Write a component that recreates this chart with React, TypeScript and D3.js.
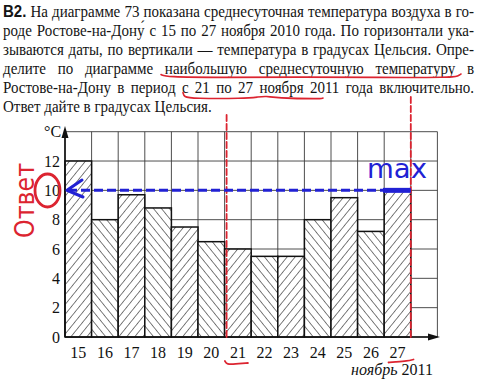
import React, { useEffect, useRef } from "react";
import * as d3 from "d3";

const days = ["15", "16", "17", "18", "19", "20", "21", "22", "23", "24", "25", "26", "27"];
const temps = [12, 8, 9.7, 8.8, 7.5, 6.5, 6, 5.5, 5.5, 8, 9.5, 7.2, 10];
const yTicks = [0, 2, 4, 6, 8, 10, 12];
const gridY = [0, 2, 4, 6, 8, 10, 12, 14];
const textLines = [
  "В2. На диаграмме 73 показана среднесуточная температура воздуха в го-",
  "роде Ростове-на-Дону́ с 15 по 27 ноября 2010 года. По горизонтали ука-",
  "зываются даты, по вертикали — температура в градусах Цельсия. Опре-",
  "делите по диаграмме наибольшую среднесуточную температуру в",
  "Ростове-на-Дону в период с 21 по 27 ноября 2011 года включительно.",
  "Ответ дайте в градусах Цельсия.",
];
const answerValue = 10;
const periodStartIdx = 6;
const periodEndIdx = 12;

const W = 480;
const H = 382;
const x = d3.scaleLinear().domain([0, 14]).range([65, 437.4]);
const y = d3.scaleLinear().domain([0, 14]).range([337, 131.7]);

const RED = "#dc2430";
const BLUE = "#2121d4";
const SERIF = "'Liberation Serif', 'Times New Roman', serif";

const curve = d3.line().curve(d3.curveBasis);

export default function App() {
  const textRef = useRef<SVGGElement>(null);

  useEffect(() => {
    const g = d3.select(textRef.current);
    g.selectAll("*").remove();
    const FS = 17;
    const baselines = [16.7, 35.7, 54.7, 73.7, 92.7, 111.7];
    const left = 3;
    const right = 474;
    const probe = g.append("text").attr("font-family", SERIF).attr("font-size", FS).text(textLines[5]);
    const nat = (probe.node() as SVGTextElement).getComputedTextLength();
    probe.remove();
    const sx = 209 / nat;
    textLines.forEach((line, i) => {
      const lg = g.append("g").attr("transform", `translate(${left},${baselines[i]}) scale(${sx},1)`);
      const words = line.split(" ");
      const last = i === textLines.length - 1;
      const nodes = words.map((w, j) =>
        lg
          .append("text")
          .attr("font-family", i === 0 && j === 0 ? "'Liberation Sans', sans-serif" : SERIF)
          .attr("font-weight", i === 0 && j === 0 ? "bold" : "normal")
          .attr("font-size", FS)
          .attr("fill", "#141414")
          .text(w)
      );
      const widths = nodes.map((n) => (n.node() as SVGTextElement).getComputedTextLength());
      const avail = (right - left) / sx;
      const total = d3.sum(widths);
      const gap = last ? FS * 0.25 : (avail - total) / (words.length - 1);
      let cx = 0;
      nodes.forEach((n, j) => {
        n.attr("x", cx);
        cx += widths[j] + gap;
      });
    });
  }, []);

  const x0 = x(0);
  const x14 = x(14);
  const yAns = y(answerValue);
  const xs = x(periodStartIdx) + 2;
  const xe = x(periodEndIdx + 1);

  return (
    <svg width={W} height={H} style={{ position: "absolute", left: 0, top: 0, background: "#fff" }}>
      <defs>
        <pattern id="hA" patternUnits="userSpaceOnUse" width="6.2" height="10" patternTransform="rotate(39)">
          <line x1="0" y1="0" x2="0" y2="10" stroke="#151515" strokeWidth="1.1" />
        </pattern>
        <pattern id="hB" patternUnits="userSpaceOnUse" width="6.2" height="10" patternTransform="rotate(-39)">
          <line x1="0" y1="0" x2="0" y2="10" stroke="#151515" strokeWidth="1.1" />
        </pattern>
      </defs>
      <rect width={W} height={H} fill="#fff" />
      <g ref={textRef} />

      {/* grid */}
      <g stroke="#3a3a3a" strokeWidth="0.9">
        {d3.range(0, 15).map((i) => (
          <line key={"v" + i} x1={x(i)} x2={x(i)} y1={y(0)} y2={y(14)} />
        ))}
        {gridY.map((t) => (
          <line key={"h" + t} x1={x0} x2={x14} y1={y(t)} y2={y(t)} />
        ))}
      </g>

      {/* bars */}
      {temps.map((v, i) => (
        <g key={days[i]}>
          <rect x={x(i)} y={y(v)} width={x(i + 1) - x(i)} height={y(0) - y(v)} fill="#fff" />
          <rect
            x={x(i)}
            y={y(v)}
            width={x(i + 1) - x(i)}
            height={y(0) - y(v)}
            fill={i % 2 === 0 ? "url(#hA)" : "url(#hB)"}
            stroke="#111"
            strokeWidth="1.5"
          />
        </g>
      ))}

      {/* axes */}
      <line x1={x0} x2={x0} y1={y(0)} y2={130} stroke="#111" strokeWidth="1.6" />
      <path d={`M${x0},126 L${x0 - 3.5},138 L${x0 + 3.5},138 Z`} fill="#111" />
      <line x1={x0} x2={430} y1={y(0)} y2={y(0)} stroke="#111" strokeWidth="1.6" />
      <path d={`M440,${y(0)} L428,${y(0) - 3.5} L428,${y(0) + 3.5} Z`} fill="#111" />

      {/* tick labels */}
      <g fontFamily={SERIF} fontSize="16" fill="#111">
        {yTicks.map((t) => (
          <text key={t} x={60} y={y(t) + 5.5} textAnchor="end">
            {t}
          </text>
        ))}
        {days.map((d, i) => (
          <text key={d} x={x(i + 0.5)} y={358} textAnchor="middle">
            {d}
          </text>
        ))}
        <text x={44} y={137}>°C</text>
        <text x={433} y={375} textAnchor="end">
          <tspan fontStyle="italic">ноябрь</tspan> 2011
        </text>
      </g>

      {/* red annotations */}
      <g stroke={RED} fill="none" strokeLinecap="round">
        <line x1={xs} x2={xs} y1={115} y2={338} strokeWidth="1.8" strokeDasharray="6 3" />
        <line x1={xe} x2={xe} y1={97} y2={338} strokeWidth="1.8" strokeDasharray="6 3" />
        <path
          d={curve([[161, 74.5], [166, 77], [220, 77.5], [300, 77], [380, 77.5], [452, 77.5], [458, 76], [461, 74]]) || ""}
          strokeWidth="1.6"
        />
        <path
          d={curve([[183, 92.5], [184, 97], [192, 98.5], [245, 98.5], [258, 97], [266, 96], [276, 98], [320, 99], [323, 98]]) || ""}
          strokeWidth="1.6"
        />
        <path d={curve([[x(6.5) - 13, 361], [x(6.5) - 11, 364.5], [x(6.5) - 3, 364], [x(6.5) + 10, 363]]) || ""} strokeWidth="1.8" />
        <path d={curve([[x(12.5) - 9, 362.5], [x(12.5) - 3, 362], [x(12.5) + 10, 361], [x(12.5) + 16, 359.5]]) || ""} strokeWidth="1.8" />
        <ellipse cx={47.5} cy={190.5} rx={12.5} ry={16.5} strokeWidth="2.8" />
      </g>
      <text
        transform="translate(34,238) rotate(-90)"
        fontFamily="'DejaVu Sans', sans-serif"
        fontSize="26"
        fill={RED}
        textLength="75"
        lengthAdjust="spacingAndGlyphs"
      >
        Ответ
      </text>

      {/* blue annotations */}
      <g stroke={BLUE} fill="none" strokeLinecap="butt">
        <line x1={68} x2={xe} y1={yAns} y2={yAns} strokeWidth="3" strokeDasharray="9 4" />
        <line x1={383} x2={xe} y1={yAns} y2={yAns} strokeWidth="5" />
        <polyline points={`82,180 67,${yAns} 83,197`} strokeWidth="3" strokeLinejoin="round" strokeLinecap="round" />
      </g>
      <text x={367} y={178} fontFamily="'DejaVu Sans', sans-serif" fontSize="26" fill={BLUE} textLength="60" lengthAdjust="spacingAndGlyphs">
        max
      </text>
    </svg>
  );
}
